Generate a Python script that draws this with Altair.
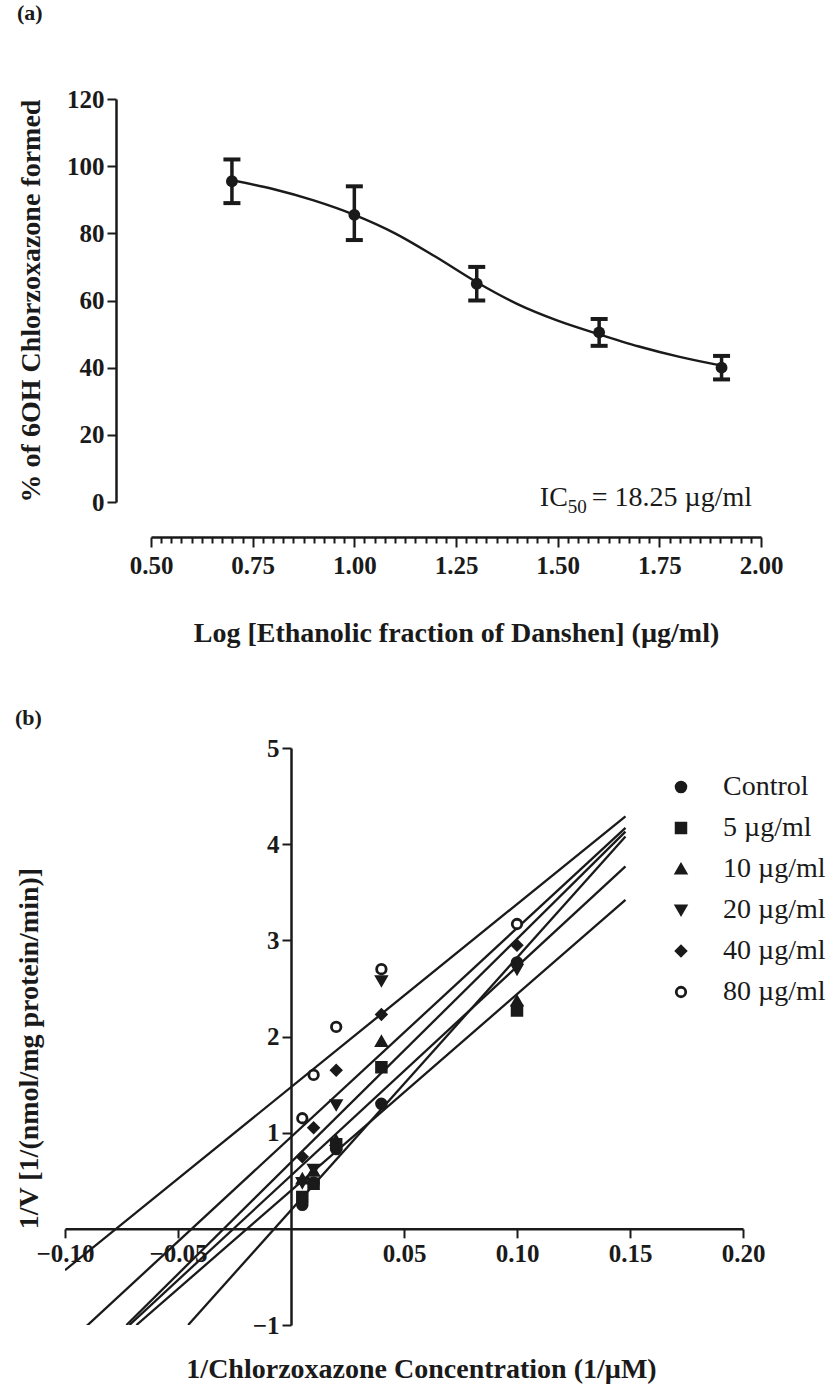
import altair as alt
import pandas as pd

SERIF = "Liberation Serif"
INK = "#1a1a1a"

# ---------------- panel (a): concentration-response ----------------
log_conc = [0.699, 1.000, 1.301, 1.602, 1.903]
pct_mean = [95.5, 85.5, 65.0, 50.5, 40.0]
pct_hi = [102.0, 94.0, 70.0, 54.5, 43.5]
pct_lo = [89.0, 78.0, 60.0, 46.5, 36.5]

# fitted sigmoid, traced
curve_x = [0.699, 0.80, 0.90, 1.00, 1.10, 1.20, 1.30, 1.40, 1.50, 1.60, 1.70, 1.80, 1.903]
curve_y = [95.8, 93.2, 89.8, 85.5, 80.0, 73.0, 65.5, 59.0, 54.0, 50.0, 46.3, 43.2, 40.6]

x_minor = [round(0.5 + 0.025 * i, 3) for i in range(61)]
y_ticks_a = [0, 20, 40, 60, 80, 100, 120]

# IC50 annotation anchor (data units)
ic_x, ic_y = 1.525, -1.2

# panel (a) view is as wide as panel (b)'s; its x axis starts further right
W_A, H_A = 696, 403
A_X0 = 86            # where 0.50 sits inside the view
A_Y_AXIS = 51        # where the y axis sits inside the view
W_B, H_B = 678, 577

df_pts = pd.DataFrame({"logc": log_conc, "pct": pct_mean, "hi": pct_hi, "lo": pct_lo})
df_curve = pd.DataFrame({"logc": curve_x, "pct": curve_y})

major_test = "abs(datum.value * 4 - round(datum.value * 4)) < 0.001"

x_axis_a = alt.Axis(
    values=x_minor,
    labelExpr=f"({major_test}) ? format(datum.value, '.2f') : ''",
    tickSize={"condition": {"test": major_test, "value": 10}, "value": 6},
    tickWidth=2, tickColor=INK, domainWidth=2.5, domainColor=INK,
    offset=35, labelOverlap=False, labelFlush=False,
    labelFont=SERIF, labelFontSize=25, labelFontWeight="bold", labelColor=INK, labelPadding=6,
    title="Log [Ethanolic fraction of Danshen] (µg/ml)",
    titleFont=SERIF, titleFontSize=28, titleFontWeight="bold", titleColor=INK,
    titleX=A_X0 + (W_A - A_X0) / 2, titleY=82, titleBaseline="top", titleAlign="center",
    grid=False,
)
y_axis_a = alt.Axis(
    values=y_ticks_a, tickSize=9, tickWidth=2, tickColor=INK,
    domainWidth=2.5, domainColor=INK, offset=-A_Y_AXIS,
    labelFont=SERIF, labelFontSize=25, labelFontWeight="bold", labelColor=INK, labelPadding=3,
    title="% of 6OH Chlorzoxazone formed",
    titleFont=SERIF, titleFontSize=28, titleFontWeight="bold", titleColor=INK,
    titleX=-85, titleY=H_A / 2, titleAngle=270, titleAlign="center", titleBaseline="middle",
    grid=False,
)
xs_a = alt.Scale(domain=[0.5, 2.0], range=[A_X0, W_A], nice=False, zero=False)
ys_a = alt.Scale(domain=[0, 120], nice=False)


def xa(field):
    return alt.X(field, type="quantitative", scale=xs_a, axis=x_axis_a)


def ya(field):
    return alt.Y(field, type="quantitative", scale=ys_a, axis=y_axis_a)


curve = alt.Chart(df_curve).mark_line(
    color=INK, strokeWidth=2.4, interpolate="monotone"
).encode(x=xa("logc"), y=ya("pct"))

err = alt.Chart(df_pts).mark_rule(color=INK, strokeWidth=3.5, opacity=1).encode(
    x=xa("logc"), y=ya("lo"), y2="hi"
)
cap_hi = alt.Chart(df_pts).mark_tick(
    color=INK, orient="horizontal", size=17, thickness=4, opacity=1
).encode(x=xa("logc"), y=ya("hi"))
cap_lo = alt.Chart(df_pts).mark_tick(
    color=INK, orient="horizontal", size=17, thickness=4, opacity=1
).encode(x=xa("logc"), y=ya("lo"))
dots = alt.Chart(df_pts).mark_circle(color=INK, size=140, opacity=1).encode(
    x=xa("logc"), y=ya("pct")
)

df_ic = pd.DataFrame({"logc": [ic_x], "pct": [ic_y]})
ic_main = alt.Chart(df_ic).mark_text(
    text="IC", align="right", baseline="alphabetic", font=SERIF, fontSize=28, color=INK
).encode(x=xa("logc"), y=ya("pct"))
ic_sub = alt.Chart(df_ic).mark_text(
    text="50", align="left", baseline="alphabetic", font=SERIF, fontSize=19, color=INK, dy=7
).encode(x=xa("logc"), y=ya("pct"))
ic_val = alt.Chart(df_ic).mark_text(
    text="= 18.25 µg/ml", align="left", baseline="alphabetic", font=SERIF, fontSize=28,
    color=INK, dx=24
).encode(x=xa("logc"), y=ya("pct"))

panel_a = alt.layer(curve, err, cap_hi, cap_lo, dots, ic_main, ic_sub, ic_val).properties(
    width=W_A, height=H_A,
    title=alt.TitleParams("(a)", anchor="start", frame="bounds", font=SERIF, fontSize=22,
                          fontWeight="bold", color=INK, offset=62),
)

# ---------------- panel (b): Lineweaver-Burk plot ----------------
inv_s = [0.005, 0.01, 0.02, 0.04, 0.10]
groups = ["Control", "5 µg/ml", "10 µg/ml", "20 µg/ml", "40 µg/ml", "80 µg/ml"]
inv_v = {
    "Control": [0.25, 0.48, 0.83, 1.30, 2.77],
    "5 µg/ml": [0.33, 0.47, 0.88, 1.68, 2.27],
    "10 µg/ml": [0.52, 0.60, 0.92, 1.95, 2.37],
    "20 µg/ml": [0.48, 0.62, 1.29, 2.58, 2.70],
    "40 µg/ml": [0.75, 1.05, 1.65, 2.23, 2.95],
    "80 µg/ml": [1.15, 1.60, 2.10, 2.70, 3.17],
}
shapes = ["circle", "square", "triangle-up", "triangle-down", "diamond", "circle"]
fills = [INK, INK, INK, INK, INK, "white"]
sizes = [95, 90, 100, 100, 115, 150]

# fitted lines, end points as drawn
line_x0 = [-0.0455, -0.0684, -0.0715, -0.0728, -0.0904, -0.1000]
line_y0 = [-1.00, -1.00, -1.00, -1.00, -1.01, -0.43]
line_x1 = [0.148, 0.148, 0.148, 0.148, 0.148, 0.148]
line_y1 = [4.08, 3.42, 3.77, 4.13, 4.17, 4.29]

x_ticks_b = [-0.10, -0.05, 0.05, 0.10, 0.15, 0.20]
y_ticks_b = [-1, 1, 2, 3, 4, 5]
x_dom_b = [-0.10, 0.20]
y_dom_b = [-1, 5]

rows = []
for g in groups:
    for xv, yv in zip(inv_s, inv_v[g]):
        rows.append({"s": xv, "v": yv, "group": g})
df_b = pd.DataFrame(rows)
df_lines = pd.DataFrame({"s": line_x0, "v": line_y0, "s2": line_x1, "v2": line_y1, "group": groups})

# axes cross at the origin: shift them inward with a negative offset
x_shift = -H_B * (0 - y_dom_b[0]) / (y_dom_b[1] - y_dom_b[0])
y_shift = -W_B * (0 - x_dom_b[0]) / (x_dom_b[1] - x_dom_b[0])

x_axis_b = alt.Axis(
    values=x_ticks_b, format=".2f", offset=x_shift, tickSize=9, tickWidth=2, tickColor=INK,
    domainWidth=2.5, domainColor=INK, labelOverlap=False, labelFlush=False,
    labelFont=SERIF, labelFontSize=25, labelFontWeight="bold", labelColor=INK, labelPadding=4,
    title="1/Chlorzoxazone Concentration (1/µM)",
    titleFont=SERIF, titleFontSize=28, titleFontWeight="bold", titleColor=INK,
    titleX=356, titleY=127, titleBaseline="top", titleAlign="center",
    grid=False,
)
y_axis_b = alt.Axis(
    values=y_ticks_b, offset=y_shift, tickSize=9, tickWidth=2, tickColor=INK,
    domainWidth=2.5, domainColor=INK, labelOverlap=False,
    labelFont=SERIF, labelFontSize=25, labelFontWeight="bold", labelColor=INK, labelPadding=3,
    title="1/V [1/(nmol/mg protein/min)]",
    titleFont=SERIF, titleFontSize=28, titleFontWeight="bold", titleColor=INK,
    titleX=-262, titleY=300, titleAngle=270, titleAlign="center", titleBaseline="middle",
    grid=False,
)
xs_b = alt.Scale(domain=x_dom_b, nice=False, zero=False)
ys_b = alt.Scale(domain=y_dom_b, nice=False, zero=False)

fit_lines = alt.Chart(df_lines).mark_rule(color=INK, strokeWidth=2.3, clip=True).encode(
    x=alt.X("s:Q", scale=xs_b, axis=x_axis_b),
    y=alt.Y("v:Q", scale=ys_b, axis=y_axis_b),
    x2="s2", y2="v2",
)

pts_b = alt.Chart(df_b).mark_point(
    filled=True, stroke=INK, strokeWidth=2.8, opacity=1
).encode(
    x=alt.X("s:Q", scale=xs_b, axis=x_axis_b),
    y=alt.Y("v:Q", scale=ys_b, axis=y_axis_b),
    shape=alt.Shape("group:N", scale=alt.Scale(domain=groups, range=shapes), title=None),
    size=alt.Size("group:N", scale=alt.Scale(domain=groups, range=sizes), title=None),
    fill=alt.Fill("group:N", scale=alt.Scale(domain=groups, range=fills), title=None,
                  legend=alt.Legend(
                      orient="none", legendX=602, legendY=25, title=None,
                      labelFont=SERIF, labelFontSize=28, labelColor=INK,
                      labelOffset=28, rowPadding=13,
                      symbolStrokeColor=INK, symbolStrokeWidth=2.8, symbolOpacity=1,
                  )),
)

panel_b = alt.layer(fit_lines, pts_b).properties(
    width=W_B, height=H_B,
    title=alt.TitleParams("(b)", anchor="start", frame="bounds", font=SERIF, fontSize=22,
                          fontWeight="bold", color=INK, offset=6),
)

chart = (
    alt.vconcat(panel_a, panel_b, spacing=60)
    .resolve_scale(shape="independent", fill="independent", size="independent")
    .resolve_legend(shape="independent", fill="independent", size="independent")
    .properties(
        padding={"left": 14, "top": 2, "right": 0, "bottom": 0},
        background="white",
    )
    .configure_view(stroke=None)
)

chart.save("out.html", embed_options={"renderer": "svg", "actions": False})
